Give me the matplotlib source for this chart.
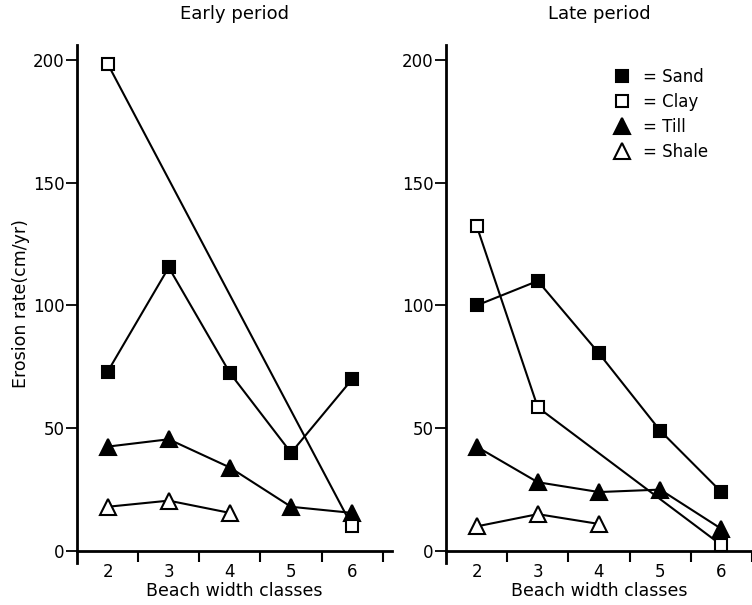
import matplotlib
matplotlib.use("Agg")
import matplotlib.pyplot as plt
from matplotlib.lines import Line2D

# beach width classes
classes = [2, 3, 4, 5, 6]

# early period (cm/yr)
sand_early = [73, 115.5, 72.5, 40, 70]
clay_early_x = [2, 6]
clay_early = [198.5, 10]
till_early = [42.5, 45.5, 34, 18, 15.5]
shale_x = [2, 3, 4]
shale_early = [18, 20.5, 15.5]

# late period (cm/yr)
sand_late = [100, 110, 80.5, 49, 24]
clay_late_x = [2, 3, 6]
clay_late = [132.5, 58.5, 2.4]
till_late = [42.5, 28, 24, 25, 9]
shale_late = [10, 15, 11]

yticks = [0, 50, 100, 150, 200]
legend_labels = ["= Sand", "= Clay", "= Till", "= Shale"]

plt.rcParams['font.family'] = ['DejaVu Sans']

fig = plt.figure(figsize=(7.52, 6.05), dpi=100)
ax1 = fig.add_axes([77 / 752, 42 / 605, 315 / 752, 518 / 605])
ax2 = fig.add_axes([446 / 752, 42 / 605, 306 / 752, 518 / 605])

sq = dict(marker='s', ms=8.5, mew=1.5, mec='black', color='black', lw=1.5)
tri = dict(marker='^', ms=11, mew=1.5, mec='black', color='black', lw=1.5)


def draw_panel(ax, sand, clay_x, clay, till, shale):
    ax.plot(classes, sand, mfc='black', **sq)
    ax.plot(clay_x, clay, mfc='white', zorder=3, **sq)
    ax.plot(classes, till, mfc='black', **tri)
    ax.plot(shale_x, shale, mfc='white', **tri)

    ax.set_ylim(-4.9, 206.1)
    ax.spines['top'].set_visible(False)
    ax.spines['right'].set_visible(False)
    ax.spines['bottom'].set_position(('data', 0))
    ax.spines['left'].set_linewidth(2)
    ax.spines['bottom'].set_linewidth(2)

    ax.set_xticks(classes)
    ax.set_xticks([2.5, 3.5, 4.5, 5.5, 6.5], minor=True)
    ax.tick_params(axis='x', which='major', length=0, pad=8.5, labelsize=12)
    ax.tick_params(axis='x', which='minor', direction='out', length=8, width=1.5)
    ax.set_yticks(yticks)
    ax.tick_params(axis='y', direction='out', length=8, width=1.3, pad=1, labelsize=12)
    ax.set_xlabel('Beach width classes', fontsize=12.5, labelpad=1)


draw_panel(ax1, sand_early, clay_early_x, clay_early, till_early, shale_early)
ax1.set_xlim(1.5, 6.65)
ax1.set_title('Early period', fontsize=13, pad=19)
ax1.set_ylabel('Erosion rate(cm/yr)', fontsize=12.5, labelpad=2)

draw_panel(ax2, sand_late, clay_late_x, clay_late, till_late, shale_late)
ax2.set_xlim(1.5, 6.5)
ax2.set_title('Late period', fontsize=13, pad=19)

handles = [
    Line2D([], [], ls='none', marker='s', ms=9, mfc='black', mec='black', mew=1.5),
    Line2D([], [], ls='none', marker='s', ms=9, mfc='white', mec='black', mew=1.5),
    Line2D([], [], ls='none', marker='^', ms=11, mfc='black', mec='black', mew=1.5),
    Line2D([], [], ls='none', marker='^', ms=11, mfc='white', mec='black', mew=1.5),
]
ax2.legend(handles, legend_labels, loc='upper left', bbox_to_anchor=(0.52, 0.972),
           frameon=False, fontsize=12, borderpad=0, handlelength=1.0,
           handletextpad=0.75, labelspacing=0.42)

fig.savefig('out.png', dpi=100)
